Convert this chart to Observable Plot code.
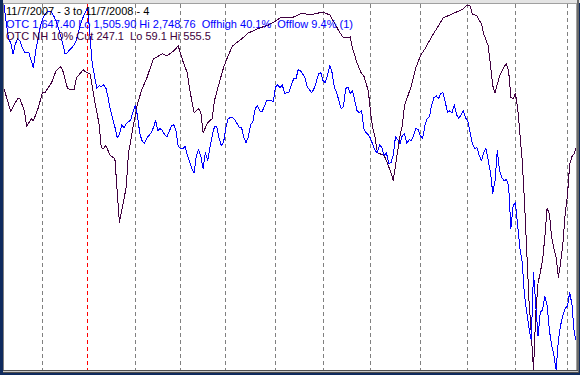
<!DOCTYPE html>
<html><head><meta charset="utf-8">
<script src="https://cdn.jsdelivr.net/npm/d3@7"></script>
<script src="https://cdn.jsdelivr.net/npm/@observablehq/plot@0.6"></script>
<style>
html,body{margin:0;padding:0;width:580px;height:375px;overflow:hidden;background:#0f2b5e;}
#win{position:absolute;left:0;top:0;width:580px;height:375px;}
.f{position:absolute;}
#plotbox{position:absolute;left:4px;top:4px;width:572px;height:366px;background:#fff;overflow:hidden;}
#plotbox svg{position:absolute;left:0;top:0;}
.lbl{position:absolute;left:6px;font-family:"Liberation Sans",Arial,sans-serif;font-size:11px;line-height:11px;white-space:pre;}
</style></head>
<body>
<div id="win">
  <div class="f" style="left:3px;top:0;width:577px;height:3px;background:#e4e4e4"></div>
  <div class="f" style="left:3px;top:3px;width:574px;height:1px;background:#a0a0a0"></div>
  <div class="f" style="left:3px;top:3px;width:1px;height:368px;background:#808080"></div>
  <div class="f" style="left:576px;top:3px;width:1px;height:368px;background:#a0a0a0"></div>
  <div class="f" style="left:577px;top:0;width:2px;height:373px;background:#6a6a6a"></div>
  <div class="f" style="left:3px;top:370px;width:575px;height:1px;background:#505050"></div>
  <div class="f" style="left:3px;top:371px;width:575px;height:1px;background:#c8c8c8"></div>
  <div class="f" style="left:3px;top:372px;width:576px;height:1px;background:#505050"></div>
  <div id="plotbox"></div>
  <div class="lbl" id="l1" style="top:6px;color:#000"></div>
  <div class="lbl" id="l2" style="top:19px;color:#0000ff"></div>
  <div class="lbl" id="l3" style="top:31px;color:#400040"></div>
</div>
<script>
// Range: trading days from 11/7/2007 (day 0) to 11/7/2008 (day 253)
const startLabel = "11/7/2007 - 3";
const endLabel = "11/7/2008 - 4";

// OTC (Nasdaq composite) closes, one per trading day
const otcClose = [
2748.76,2688,2633,2620,2582,2616,2633,2627,2606,2589,
2586,2586,2559,2535,2593,2633,2674,2701,2715,2725,
2728,2725,2711,2694,2671,2644,2616,2582,2586,2596,
2603,2613,2630,2660,2688,2708,2725,2739,2644,2548,
2508,2464,2474,2470,2477,2467,2433,2392,2362,2334,
2297,2307,2341,2331,2345,2351,2358,2385,2406,2372,
2311,2287,2277,2294,2304,2314,2331,2355,2321,2328,
2321,2307,2300,2317,2338,2341,2321,2267,2260,2260,
2267,2239,2216,2192,2178,2236,2256,2233,2192,2246,
2219,2263,2304,2334,2334,2297,2270,2280,2328,2362,
2365,2365,2358,2345,2331,2331,2297,2280,2300,2341,
2351,2396,2406,2389,2385,2402,2423,2423,2423,2419,
2470,2477,2467,2477,2447,2450,2453,2477,2497,2497,
2528,2525,2514,2501,2470,2460,2450,2464,2487,2514,
2518,2491,2484,2511,2542,2518,2467,2450,2423,2396,
2402,2464,2470,2447,2457,2423,2389,2382,2389,2328,
2314,2307,2294,2273,2253,2246,2273,2263,2236,2246,
2209,2212,2236,2300,2290,2277,2304,2311,2277,2290,
2287,2304,2328,2324,2304,2294,2338,2362,2368,2409,
2433,2440,2430,2447,2450,2419,2382,2389,2382,2409,
2375,2362,2375,2389,2365,2351,2314,2277,2260,2263,
2236,2219,2246,2260,2219,2178,2107,2151,2253,2185,
2161,2151,2154,2134,1988,2066,2076,1998,1920,1873,
1761,1703,1648,1608,1839,1727,1621,1703,1710,1757,
1727,1642,1591,1557,1506,1608,1659,1693,1716,1723,
1771,1727,1632,1601];
const otcLast = 1647.40, otcLo = 1505.90, otcHi = 2748.76;
const offHigh = 40.1, offLow = 9.4;

// OTC NH 10% cut series (trading day index, value)
const nhDays = [0,3,5,6,7,9,10,12,13,15,17,18,21,23,25,26,28,29,31,32,35,36,38,39,40,42,43,44,45,47,49,50,51,52,54,55,57,59,61,63,66,70,72,75,77,79,81,82,84,86,87,88,90,92,93,95,97,99,101,105,108,110,113,117,120,122,127,129,132,135,139,141,142,144,146,148,150,152,153,154,156,158,159,161,162,163,164,165,168,169,171,172,173,175,176,177,180,182,184,186,188,190,192,194,196,198,200,203,204,205,206,207,209,211,212,214,215,216,217,219,221,222,223,224,225,226,227,228,229,230,231,232,233,234,235,236,237,238,239,240,241,242,243,244,245,246,247,248,249,250,251,252,253];
const nhValues = [441.6,410.4,422.6,428.0,428.0,411.7,390.0,400.9,398.2,414.4,436.1,436.1,449.7,466.0,471.4,466.0,442.9,440.2,440.2,456.5,467.3,464.6,461.9,445.6,425.3,394.1,361.5,360.2,364.3,350.7,346.6,303.2,259.8,276.1,307.3,353.4,388.7,421.2,441.6,455.1,482.3,489.0,486.3,493.1,499.9,479.5,463.3,441.6,409.0,414.4,409.0,381.9,395.5,400.9,425.3,448.4,470.1,486.3,499.9,509.4,517.5,520.2,524.3,528.4,533.8,537.9,537.9,540.6,544.6,541.9,544.6,546.0,544.6,541.9,531.1,520.2,510.7,510.7,512.1,497.2,476.8,461.9,459.2,438.9,409.0,387.3,375.1,354.8,350.7,343.9,327.6,316.8,337.1,377.8,391.4,418.5,445.6,470.1,486.3,495.8,506.7,517.5,527.0,537.9,540.6,543.3,546.0,550.1,554.1,555.5,554.1,543.3,540.6,529.7,516.2,499.9,472.8,445.6,436.1,459.2,471.4,475.5,466.0,430.0,428.0,434.8,415.8,380.5,343.9,289.7,221.8,154.0,109.3,59.1,136.4,177.1,192.0,208.3,239.5,278.8,272.0,239.5,224.6,212.4,185.2,205.6,231.3,272.0,296.4,339.8,349.3,353.4,362.9];
const nhCut = 247.1, nhLo = 59.1, nhHi = 555.5;

// first trading day of each month (index); the year boundary is drawn red
const monthStartDays = [17,37,58,78,98,120,141,162,184,205,226,249];
const yearStartDay = 37;

const f2 = d3.format(",.2f");
document.getElementById("l1").textContent = `${startLabel} to ${endLabel}`;
document.getElementById("l2").textContent =
  `OTC ${f2(otcLast)} Lo ${f2(otcLo)} Hi ${f2(otcHi)}  Offhigh ${offHigh}%  Offlow ${offLow}% (1)`;
document.getElementById("l3").textContent =
  `OTC NH 10% Cut ${nhCut}  Lo ${nhLo} Hi ${nhHi}`;

const otcData = otcClose.map((v, i) => ({day: i, n: (v - otcLo) / (otcHi - otcLo)}));
const nhData = nhDays.map((d, i) => ({day: d, n: (nhValues[i] - nhLo) / (nhHi - nhLo)}));

const chart = Plot.plot({
  width: 572, height: 366, margin: 0,
  x: {domain: [0, 253], range: [-0.5, 572], axis: null},
  y: {domain: [0, 1], range: [365.5, 0.5], axis: null},
  style: {background: "transparent"},
  marks: [
    Plot.ruleX(monthStartDays.filter(d => d !== yearStartDay), {x: d => d, stroke: "#808080", strokeDasharray: "4,3", shapeRendering: "crispEdges"}),
    Plot.ruleX([yearStartDay], {x: d => d, stroke: "#ff0000", strokeDasharray: "4,3", shapeRendering: "crispEdges"}),
    Plot.line(nhData, {x: "day", y: "n", stroke: "#400040", strokeWidth: 1, shapeRendering: "crispEdges"}),
    Plot.line(otcData, {x: "day", y: "n", stroke: "#0000ff", strokeWidth: 1, shapeRendering: "crispEdges"})
  ]
});
document.getElementById("plotbox").appendChild(chart);
</script>
</body></html>
